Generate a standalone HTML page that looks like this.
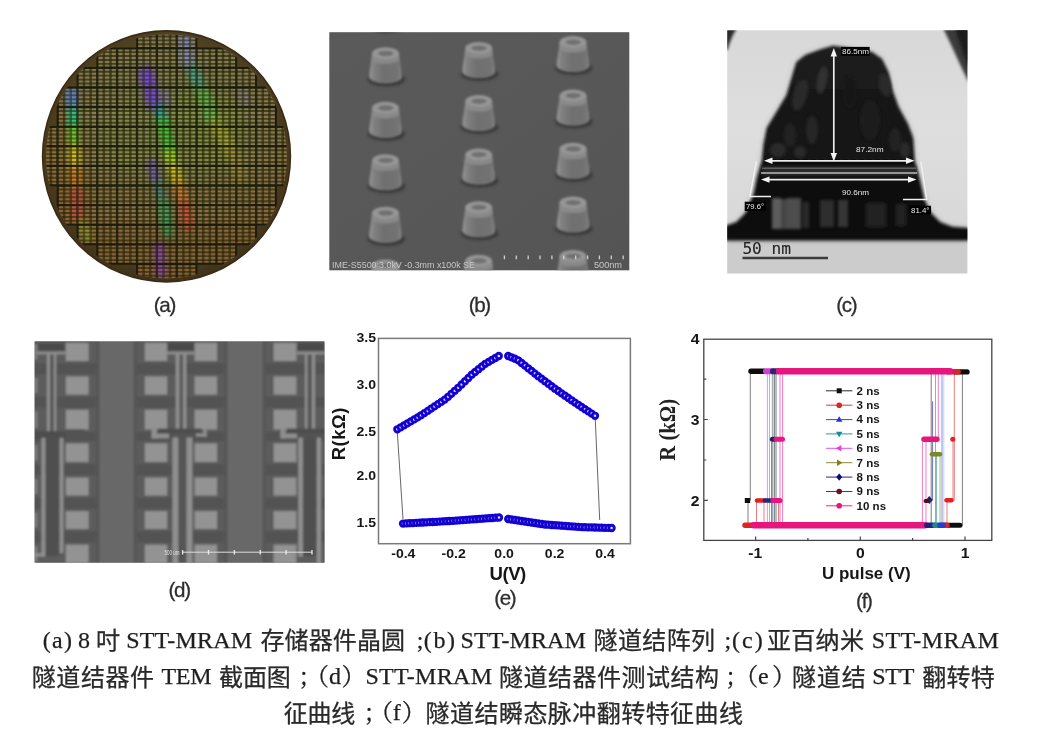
<!DOCTYPE html>
<html lang="zh"><head><meta charset="utf-8"><title>STT-MRAM figure</title>
<style>
html,body{margin:0;padding:0;background:#fff;}
body{width:1038px;height:745px;position:relative;overflow:hidden;font-family:"Liberation Sans","Noto Sans CJK SC",sans-serif;}
svg{position:absolute;left:0;top:0;}
.lab{position:absolute;font-family:"Liberation Sans",sans-serif;font-size:20.6px;letter-spacing:-1.3px;line-height:20px;height:20px;width:60px;text-align:center;color:#2e2e2e;white-space:nowrap;filter:blur(0.4px);-webkit-text-stroke:0.3px #2e2e2e;}
.cap{position:absolute;left:0;width:1038px;height:36px;margin:0;line-height:36px;font-family:"Liberation Serif","Noto Sans CJK SC",serif;font-size:24px;color:#1e1e1e;white-space:pre;filter:blur(0.4px);-webkit-text-stroke:0.25px #1e1e1e;}
.cap span{position:absolute;top:0;white-space:pre;}
.cap span.k{top:1.6px;color:#2a2a2a;}
.cap span.p{top:1px;font-family:"Liberation Serif","Noto Serif CJK SC",serif;-webkit-text-stroke:0.3px #222;}

</style></head><body>
<svg width="1038" height="745" viewBox="0 0 1038 745">
<!-- wafer -->
<g id="p_wafer">
<defs>
<clipPath id="wclip"><ellipse cx="166.5" cy="156.4" rx="123.9" ry="125.5"/></clipPath>
<clipPath id="wclip2"><ellipse cx="166.5" cy="156.4" rx="120.4" ry="122.0"/></clipPath>
<radialGradient id="wbase" cx="0.5" cy="0.45" r="0.55"><stop offset="0" stop-color="#5e5a30"/><stop offset="0.7" stop-color="#544624"/><stop offset="1" stop-color="#40321a"/></radialGradient>
<radialGradient id="wtint" cx="0.52" cy="0.42" r="0.6"><stop offset="0" stop-color="#858764"/><stop offset="0.5" stop-color="#878058"/><stop offset="1" stop-color="#886845"/></radialGradient>
<filter id="wb1" filterUnits="userSpaceOnUse" x="20" y="10" width="300" height="300"><feGaussianBlur stdDeviation="0.6"/></filter>
<filter id="wb3" filterUnits="userSpaceOnUse" x="20" y="10" width="300" height="300"><feGaussianBlur stdDeviation="3"/></filter>
<filter id="wb5" filterUnits="userSpaceOnUse" x="20" y="10" width="300" height="300"><feGaussianBlur stdDeviation="5"/></filter>
<linearGradient id="wlow" x1="0" x2="0" y1="0" y2="1"><stop offset="0" stop-color="#707060" stop-opacity="0.18"/><stop offset="0.42" stop-color="#8a5020" stop-opacity="0"/><stop offset="0.62" stop-color="#8a4c20" stop-opacity="0.26"/><stop offset="1" stop-color="#8a4418" stop-opacity="0.42"/></linearGradient>
</defs>
<g filter="url(#wb1)">
<ellipse cx="166.5" cy="156.4" rx="123.9" ry="125.5" fill="url(#wbase)" stroke="#3a2c14" stroke-width="1.6"/>
<g clip-path="url(#wclip2)">
<clipPath id="dieclip"><path d="M137.0 28.6H196.6V48.2H137.0ZM97.2 48.2H236.3V67.8H97.2ZM77.4 67.8H256.2V87.4H77.4ZM57.5 87.4H276.1V107.1H57.5ZM57.5 107.1H276.1V126.7H57.5ZM37.6 126.7H295.9V146.3H37.6ZM37.6 146.3H295.9V165.9H37.6ZM37.6 165.9H295.9V185.5H37.6ZM57.5 185.5H276.1V205.2H57.5ZM57.5 205.2H276.1V224.8H57.5ZM77.4 224.8H256.2V244.4H77.4ZM97.2 244.4H236.3V264.0H97.2ZM137.0 264.0H196.6V283.6H137.0Z"/></clipPath>
<path d="M137.0 28.6H196.6V48.2H137.0ZM97.2 48.2H236.3V67.8H97.2ZM77.4 67.8H256.2V87.4H77.4ZM57.5 87.4H276.1V107.1H57.5ZM57.5 107.1H276.1V126.7H57.5ZM37.6 126.7H295.9V146.3H37.6ZM37.6 146.3H295.9V165.9H37.6ZM37.6 165.9H295.9V185.5H37.6ZM57.5 185.5H276.1V205.2H57.5ZM57.5 205.2H276.1V224.8H57.5ZM77.4 224.8H256.2V244.4H77.4ZM97.2 244.4H236.3V264.0H97.2ZM137.0 264.0H196.6V283.6H137.0Z" fill="url(#wtint)"/>
<g clip-path="url(#dieclip)">
<ellipse cx="62" cy="170" rx="26" ry="75" fill="#a06028" opacity="0.28" filter="url(#wb5)"/>
<rect x="30" y="20" width="280" height="280" fill="url(#wlow)"/>
<ellipse cx="205" cy="120" rx="32" ry="42" fill="#8ea040" opacity="0.35" transform="rotate(-25 205 120)" filter="url(#wb5)"/>
<ellipse cx="175" cy="135" rx="70" ry="50" fill="#7c9040" opacity="0.35" filter="url(#wb5)"/>
<polyline points="71.5,92.0 72.0,104.0" fill="none" stroke="#5a86e0" stroke-width="10.0" stroke-opacity="1.00" stroke-linecap="round" filter="url(#wb3)"/>
<polyline points="72.5,110.0 73.0,124.0" fill="none" stroke="#20d090" stroke-width="9.0" stroke-opacity="0.95" stroke-linecap="round" filter="url(#wb3)"/>
<polyline points="73.5,129.0 74.0,143.0" fill="none" stroke="#70d830" stroke-width="9.0" stroke-opacity="0.95" stroke-linecap="round" filter="url(#wb3)"/>
<polyline points="74.5,149.0 75.0,165.0" fill="none" stroke="#e0d020" stroke-width="9.0" stroke-opacity="0.95" stroke-linecap="round" filter="url(#wb3)"/>
<polyline points="75.5,171.0 76.0,186.0" fill="none" stroke="#e08028" stroke-width="9.0" stroke-opacity="0.90" stroke-linecap="round" filter="url(#wb3)"/>
<polyline points="76.5,192.0 77.5,216.0" fill="none" stroke="#d84848" stroke-width="9.0" stroke-opacity="0.85" stroke-linecap="round" filter="url(#wb3)"/>
<polyline points="82.5,224.0 87.5,238.0" fill="none" stroke="#98a838" stroke-width="9.0" stroke-opacity="0.70" stroke-linecap="round" filter="url(#wb3)"/>
<polyline points="146.0,73.0 154.0,103.0" fill="none" stroke="#7848e0" stroke-width="14.0" stroke-opacity="0.95" stroke-linecap="round" filter="url(#wb3)"/>
<polyline points="164.0,92.0 168.0,102.0" fill="none" stroke="#9080d0" stroke-width="10.0" stroke-opacity="0.50" stroke-linecap="round" filter="url(#wb3)"/>
<polyline points="242.0,92.0 246.0,102.0" fill="none" stroke="#9088c8" stroke-width="10.0" stroke-opacity="0.35" stroke-linecap="round" filter="url(#wb3)"/>
<polyline points="159.0,108.0 162.0,118.0" fill="none" stroke="#20a8b0" stroke-width="9.0" stroke-opacity="0.90" stroke-linecap="round" filter="url(#wb3)"/>
<polyline points="163.0,122.0 169.0,150.0" fill="none" stroke="#38d038" stroke-width="10.0" stroke-opacity="0.95" stroke-linecap="round" filter="url(#wb3)"/>
<polyline points="170.0,153.0 172.0,164.0" fill="none" stroke="#a0d828" stroke-width="10.0" stroke-opacity="0.95" stroke-linecap="round" filter="url(#wb3)"/>
<polyline points="174.0,168.0 178.0,182.0" fill="none" stroke="#e0c828" stroke-width="10.0" stroke-opacity="0.90" stroke-linecap="round" filter="url(#wb3)"/>
<polyline points="179.0,186.0 183.0,200.0" fill="none" stroke="#e08030" stroke-width="9.0" stroke-opacity="0.90" stroke-linecap="round" filter="url(#wb3)"/>
<polyline points="184.0,204.0 188.0,226.0" fill="none" stroke="#e04838" stroke-width="9.0" stroke-opacity="0.90" stroke-linecap="round" filter="url(#wb3)"/>
<polyline points="152.0,164.0 155.0,178.0" fill="none" stroke="#7058d0" stroke-width="9.0" stroke-opacity="0.80" stroke-linecap="round" filter="url(#wb3)"/>
<polyline points="158.0,184.0 161.0,196.0" fill="none" stroke="#3890a0" stroke-width="8.0" stroke-opacity="0.70" stroke-linecap="round" filter="url(#wb3)"/>
<polyline points="163.0,203.0 168.0,232.0" fill="none" stroke="#30a868" stroke-width="10.0" stroke-opacity="0.80" stroke-linecap="round" filter="url(#wb3)"/>
<polyline points="159.0,246.0 161.0,274.0" fill="none" stroke="#9040c8" stroke-width="8.0" stroke-opacity="0.90" stroke-linecap="round" filter="url(#wb3)"/>
<polyline points="185.0,36.0 188.0,62.0" fill="none" stroke="#8890d8" stroke-width="12.0" stroke-opacity="0.70" stroke-linecap="round" filter="url(#wb3)"/>
<polyline points="193.0,70.0 199.0,86.0" fill="none" stroke="#40b0a0" stroke-width="11.0" stroke-opacity="0.75" stroke-linecap="round" filter="url(#wb3)"/>
<polyline points="203.0,92.0 211.0,118.0" fill="none" stroke="#58c050" stroke-width="13.0" stroke-opacity="0.75" stroke-linecap="round" filter="url(#wb3)"/>
<polyline points="216.0,124.0 228.0,146.0" fill="none" stroke="#b0b030" stroke-width="13.0" stroke-opacity="0.65" stroke-linecap="round" filter="url(#wb3)"/>
<polyline points="232.0,152.0 240.0,176.0" fill="none" stroke="#b09838" stroke-width="12.0" stroke-opacity="0.45" stroke-linecap="round" filter="url(#wb3)"/>
<polyline points="258.0,226.0 258.0,236.0" fill="none" stroke="#e04820" stroke-width="4.0" stroke-opacity="0.90" stroke-linecap="round" filter="url(#wb1)"/>
<polyline points="237.0,244.0 237.5,252.0" fill="none" stroke="#e04820" stroke-width="4.0" stroke-opacity="0.90" stroke-linecap="round" filter="url(#wb1)"/>
<polyline points="243.0,250.0 247.0,250.0" fill="none" stroke="#c09850" stroke-width="5.0" stroke-opacity="0.80" stroke-linecap="round" filter="url(#wb1)"/>
<path d="M44.25 28V286M50.88 28V286M64.12 28V286M70.75 28V286M83.99 28V286M90.62 28V286M103.86 28V286M110.49 28V286M123.73 28V286M130.36 28V286M143.60 28V286M150.23 28V286M163.47 28V286M170.10 28V286M183.34 28V286M189.97 28V286M203.21 28V286M209.84 28V286M223.08 28V286M229.71 28V286M242.95 28V286M249.58 28V286M262.82 28V286M269.45 28V286M282.69 28V286M289.32 28V286M302.56 28V286M309.19 28V286" stroke="#2a2a0a" stroke-width="2.5" stroke-opacity="0.68" fill="none"/>
<path d="M36 32.50H298M36 36.43H298M36 40.35H298M36 44.28H298M36 52.12H298M36 56.05H298M36 59.97H298M36 63.90H298M36 71.74H298M36 75.67H298M36 79.59H298M36 83.52H298M36 91.36H298M36 95.29H298M36 99.21H298M36 103.14H298M36 110.98H298M36 114.91H298M36 118.83H298M36 122.76H298M36 130.60H298M36 134.53H298M36 138.45H298M36 142.38H298M36 150.22H298M36 154.15H298M36 158.07H298M36 162.00H298M36 169.84H298M36 173.77H298M36 177.69H298M36 181.62H298M36 189.46H298M36 193.39H298M36 197.31H298M36 201.24H298M36 209.08H298M36 213.01H298M36 216.93H298M36 220.86H298M36 228.70H298M36 232.63H298M36 236.55H298M36 240.48H298M36 248.32H298M36 252.25H298M36 256.17H298M36 260.10H298M36 267.94H298M36 271.87H298M36 275.79H298M36 279.72H298M36 287.56H298M36 291.49H298M36 295.41H298M36 299.34H298" stroke="#2a2a0a" stroke-width="1.9" stroke-opacity="0.7" fill="none"/>
</g>
<g clip-path="url(#dieclip)"><path d="M37.63 28V286M57.50 28V286M77.37 28V286M97.24 28V286M117.11 28V286M136.98 28V286M156.85 28V286M176.72 28V286M196.59 28V286M216.46 28V286M236.33 28V286M256.20 28V286M276.07 28V286M295.94 28V286M315.81 28V286M36 28.58H298M36 48.20H298M36 67.82H298M36 87.44H298M36 107.06H298M36 126.68H298M36 146.30H298M36 165.92H298M36 185.54H298M36 205.16H298M36 224.78H298M36 244.40H298M36 264.02H298M36 283.64H298M36 303.26H298" stroke="#1e200a" stroke-width="2.4" stroke-opacity="0.93" fill="none"/></g>
<g clip-path="url(#dieclip)" opacity="0.24"><polyline points="71.5,92.0 72.0,104.0" fill="none" stroke="#5a86e0" stroke-width="10.0" stroke-opacity="1.00" stroke-linecap="round" filter="url(#wb3)"/>
<polyline points="72.5,110.0 73.0,124.0" fill="none" stroke="#20d090" stroke-width="9.0" stroke-opacity="0.95" stroke-linecap="round" filter="url(#wb3)"/>
<polyline points="73.5,129.0 74.0,143.0" fill="none" stroke="#70d830" stroke-width="9.0" stroke-opacity="0.95" stroke-linecap="round" filter="url(#wb3)"/>
<polyline points="74.5,149.0 75.0,165.0" fill="none" stroke="#e0d020" stroke-width="9.0" stroke-opacity="0.95" stroke-linecap="round" filter="url(#wb3)"/>
<polyline points="75.5,171.0 76.0,186.0" fill="none" stroke="#e08028" stroke-width="9.0" stroke-opacity="0.90" stroke-linecap="round" filter="url(#wb3)"/>
<polyline points="76.5,192.0 77.5,216.0" fill="none" stroke="#d84848" stroke-width="9.0" stroke-opacity="0.85" stroke-linecap="round" filter="url(#wb3)"/>
<polyline points="82.5,224.0 87.5,238.0" fill="none" stroke="#98a838" stroke-width="9.0" stroke-opacity="0.70" stroke-linecap="round" filter="url(#wb3)"/>
<polyline points="146.0,73.0 154.0,103.0" fill="none" stroke="#7848e0" stroke-width="14.0" stroke-opacity="0.95" stroke-linecap="round" filter="url(#wb3)"/>
<polyline points="164.0,92.0 168.0,102.0" fill="none" stroke="#9080d0" stroke-width="10.0" stroke-opacity="0.50" stroke-linecap="round" filter="url(#wb3)"/>
<polyline points="242.0,92.0 246.0,102.0" fill="none" stroke="#9088c8" stroke-width="10.0" stroke-opacity="0.35" stroke-linecap="round" filter="url(#wb3)"/>
<polyline points="159.0,108.0 162.0,118.0" fill="none" stroke="#20a8b0" stroke-width="9.0" stroke-opacity="0.90" stroke-linecap="round" filter="url(#wb3)"/>
<polyline points="163.0,122.0 169.0,150.0" fill="none" stroke="#38d038" stroke-width="10.0" stroke-opacity="0.95" stroke-linecap="round" filter="url(#wb3)"/>
<polyline points="170.0,153.0 172.0,164.0" fill="none" stroke="#a0d828" stroke-width="10.0" stroke-opacity="0.95" stroke-linecap="round" filter="url(#wb3)"/>
<polyline points="174.0,168.0 178.0,182.0" fill="none" stroke="#e0c828" stroke-width="10.0" stroke-opacity="0.90" stroke-linecap="round" filter="url(#wb3)"/>
<polyline points="179.0,186.0 183.0,200.0" fill="none" stroke="#e08030" stroke-width="9.0" stroke-opacity="0.90" stroke-linecap="round" filter="url(#wb3)"/>
<polyline points="184.0,204.0 188.0,226.0" fill="none" stroke="#e04838" stroke-width="9.0" stroke-opacity="0.90" stroke-linecap="round" filter="url(#wb3)"/>
<polyline points="152.0,164.0 155.0,178.0" fill="none" stroke="#7058d0" stroke-width="9.0" stroke-opacity="0.80" stroke-linecap="round" filter="url(#wb3)"/>
<polyline points="158.0,184.0 161.0,196.0" fill="none" stroke="#3890a0" stroke-width="8.0" stroke-opacity="0.70" stroke-linecap="round" filter="url(#wb3)"/>
<polyline points="163.0,203.0 168.0,232.0" fill="none" stroke="#30a868" stroke-width="10.0" stroke-opacity="0.80" stroke-linecap="round" filter="url(#wb3)"/>
<polyline points="159.0,246.0 161.0,274.0" fill="none" stroke="#9040c8" stroke-width="8.0" stroke-opacity="0.90" stroke-linecap="round" filter="url(#wb3)"/>
<polyline points="185.0,36.0 188.0,62.0" fill="none" stroke="#8890d8" stroke-width="12.0" stroke-opacity="0.70" stroke-linecap="round" filter="url(#wb3)"/>
<polyline points="193.0,70.0 199.0,86.0" fill="none" stroke="#40b0a0" stroke-width="11.0" stroke-opacity="0.75" stroke-linecap="round" filter="url(#wb3)"/>
<polyline points="203.0,92.0 211.0,118.0" fill="none" stroke="#58c050" stroke-width="13.0" stroke-opacity="0.75" stroke-linecap="round" filter="url(#wb3)"/>
<polyline points="216.0,124.0 228.0,146.0" fill="none" stroke="#b0b030" stroke-width="13.0" stroke-opacity="0.65" stroke-linecap="round" filter="url(#wb3)"/>
<polyline points="232.0,152.0 240.0,176.0" fill="none" stroke="#b09838" stroke-width="12.0" stroke-opacity="0.45" stroke-linecap="round" filter="url(#wb3)"/>
<polyline points="258.0,226.0 258.0,236.0" fill="none" stroke="#e04820" stroke-width="4.0" stroke-opacity="0.90" stroke-linecap="round" filter="url(#wb1)"/>
<polyline points="237.0,244.0 237.5,252.0" fill="none" stroke="#e04820" stroke-width="4.0" stroke-opacity="0.90" stroke-linecap="round" filter="url(#wb1)"/>
<polyline points="243.0,250.0 247.0,250.0" fill="none" stroke="#c09850" stroke-width="5.0" stroke-opacity="0.80" stroke-linecap="round" filter="url(#wb1)"/></g>
<path d="M137.0 28.6H196.6V48.2H137.0ZM97.2 48.2H236.3V67.8H97.2ZM77.4 67.8H256.2V87.4H77.4ZM57.5 87.4H276.1V107.1H57.5ZM57.5 107.1H276.1V126.7H57.5ZM37.6 126.7H295.9V146.3H37.6ZM37.6 146.3H295.9V165.9H37.6ZM37.6 165.9H295.9V185.5H37.6ZM57.5 185.5H276.1V205.2H57.5ZM57.5 205.2H276.1V224.8H57.5ZM77.4 224.8H256.2V244.4H77.4ZM97.2 244.4H236.3V264.0H97.2ZM137.0 264.0H196.6V283.6H137.0Z" fill="none" stroke="#1c1a08" stroke-width="1.6"/>
</g>
</g>
</g>
<!-- sem -->
<g id="p_sem">
<defs>
<clipPath id="sclip"><rect x="329.3" y="32.2" width="300.0" height="238.1"/></clipPath>
<filter id="sb" x="-30%" y="-30%" width="160%" height="160%"><feGaussianBlur stdDeviation="0.9"/></filter>
<filter id="sb2" x="-50%" y="-80%" width="200%" height="260%"><feGaussianBlur stdDeviation="1.6"/></filter>
<filter id="sb05" filterUnits="userSpaceOnUse" x="320" y="20" width="320" height="260"><feGaussianBlur stdDeviation="0.45"/></filter>
<linearGradient id="sbody" x1="0" x2="1" y1="0" y2="0"><stop offset="0" stop-color="#989898"/><stop offset="0.16" stop-color="#808080"/><stop offset="0.45" stop-color="#707070"/><stop offset="0.85" stop-color="#727272"/><stop offset="1" stop-color="#848484"/></linearGradient>
<linearGradient id="sbg" x1="0" x2="1" y1="0" y2="1"><stop offset="0" stop-color="#5a5a5a"/><stop offset="0.5" stop-color="#585858"/><stop offset="1" stop-color="#545454"/></linearGradient>
<g id="pil">
<ellipse cx="0.8" cy="32.3" rx="18.8" ry="6.8" fill="#343434" opacity="0.85" filter="url(#sb2)"/>
<g filter="url(#sb)">
<path d="M-13.4 6 C-14 14 -15.8 22 -16.6 30 C-14 38 14 38 16.6 30 C15.8 22 14 14 13.4 6 Z" fill="url(#sbody)"/>
<path d="M-13.4 6 L-14 13 C-9 17.8 9 17.8 14 13 L13.4 6Z" fill="#8c8c8c" opacity="0.9"/>
<ellipse cx="0" cy="6" rx="13.4" ry="6" fill="#969696"/>
<ellipse cx="0.3" cy="6.2" rx="7.6" ry="2.7" fill="#707070"/>
<path d="M-16 29.5 C-13 37.2 13 37.2 16 29.5" fill="none" stroke="#7c7c7c" stroke-width="1.1" opacity="0.6"/>
</g></g>
</defs>
<rect x="329.3" y="32.2" width="300.0" height="238.1" fill="url(#sbg)"/>
<g clip-path="url(#sclip)">
<use href="#pil" x="385.5" y="-6.0"/>
<use href="#pil" x="385.5" y="47.3"/>
<use href="#pil" x="385.5" y="101.8"/>
<use href="#pil" x="385.5" y="154.2"/>
<use href="#pil" x="385.5" y="206.8"/>
<use href="#pil" x="385.5" y="259.5"/>
<use href="#pil" x="478.7" y="-11.0"/>
<use href="#pil" x="478.7" y="42.0"/>
<use href="#pil" x="478.7" y="95.0"/>
<use href="#pil" x="478.7" y="148.5"/>
<use href="#pil" x="478.7" y="201.2"/>
<use href="#pil" x="478.7" y="254.7"/>
<use href="#pil" x="573.0" y="-17.0"/>
<use href="#pil" x="573.0" y="36.0"/>
<use href="#pil" x="573.0" y="89.5"/>
<use href="#pil" x="573.0" y="142.8"/>
<use href="#pil" x="573.0" y="196.4"/>
<use href="#pil" x="573.0" y="250.0"/>
<g filter="url(#sb05)">
<text x="332" y="268.3" font-family="'Liberation Sans',sans-serif" font-size="8.3" fill="#c6c6c6" textLength="143" lengthAdjust="spacingAndGlyphs">IME-S5500 3.0kV -0.3mm x100k SE</text>
<text x="594" y="268.3" font-family="'Liberation Sans',sans-serif" font-size="8.3" fill="#c6c6c6" textLength="28" lengthAdjust="spacingAndGlyphs">500nm</text>
<path d="M504.4 255.4V259.2M516.3 255.4V259.2M528.2 255.4V259.2M540.0 255.4V259.2M551.9 255.4V259.2M563.8 255.4V259.2M575.7 255.4V259.2M587.6 255.4V259.2M599.4 255.4V259.2M611.3 255.4V259.2M623.2 255.4V259.2" stroke="#cfcfcf" stroke-width="1.3" fill="none"/>
</g>
</g>
</g>
<!-- tem -->
<g id="p_tem">
<defs>
<clipPath id="tclip"><rect x="727.2" y="30.3" width="240.2" height="243.2"/></clipPath>
<filter id="tb" filterUnits="userSpaceOnUse" x="700" y="10" width="300" height="290"><feGaussianBlur stdDeviation="1.5"/></filter>
<filter id="tb3" filterUnits="userSpaceOnUse" x="700" y="10" width="300" height="290"><feGaussianBlur stdDeviation="3"/></filter>
<filter id="tb05" filterUnits="userSpaceOnUse" x="700" y="10" width="300" height="290"><feGaussianBlur stdDeviation="0.5"/></filter>
<linearGradient id="tbg" x1="0" x2="0" y1="0" y2="1"><stop offset="0" stop-color="#d8d8d8"/><stop offset="0.4" stop-color="#dedede"/><stop offset="0.84" stop-color="#d8d8d8"/><stop offset="0.88" stop-color="#cdcdcd"/><stop offset="1" stop-color="#cbcbcb"/></linearGradient>
<linearGradient id="tblob" x1="0" x2="0" y1="0" y2="1"><stop offset="0" stop-color="#1e1e1e"/><stop offset="0.6" stop-color="#111111"/><stop offset="1" stop-color="#0a0a0a"/></linearGradient>
</defs>
<rect x="727.2" y="30.3" width="240.2" height="243.2" fill="url(#tbg)"/>
<g clip-path="url(#tclip)">
<path d="M727.0 226.5 L736.8 223.2 L746.6 213.4 L754.8 193.7 L758.1 177.3 L763.0 161.0 L764.7 144.6 L767.9 128.2 L777.8 111.9 L787.6 95.5 L792.5 79.1 L797.4 62.7 L805.6 56.2 L822.0 50.3 L833.4 47.0 L871.1 52.9 L880.9 59.5 L887.4 72.6 L890.7 88.9 L897.3 106.9 L907.1 125.0 L912.0 138.1 L913.6 161.0 L918.6 179.0 L923.5 200.3 L930.0 213.4 L939.8 223.2 L952.9 228.1 L967.0 229.1 L969.3 229.1 L969.3 239.6 L725.4 239.6 L725.4 226.5Z" fill="#555" opacity="0.55" filter="url(#tb3)"/>
<path d="M727.0 226.5 L736.8 223.2 L746.6 213.4 L754.8 193.7 L758.1 177.3 L763.0 161.0 L764.7 144.6 L767.9 128.2 L777.8 111.9 L787.6 95.5 L792.5 79.1 L797.4 62.7 L805.6 56.2 L822.0 50.3 L833.4 47.0 L871.1 52.9 L880.9 59.5 L887.4 72.6 L890.7 88.9 L897.3 106.9 L907.1 125.0 L912.0 138.1 L913.6 161.0 L918.6 179.0 L923.5 200.3 L930.0 213.4 L939.8 223.2 L952.9 228.1 L967.0 229.1 L969.3 229.1 L969.3 239.6 L725.4 239.6 L725.4 226.5Z" fill="url(#tblob)" stroke="#101010" stroke-width="2" stroke-linejoin="round" filter="url(#tb)"/>
<path d="M943 28 L970 28 L970 84 C962 70 954 50 943 28Z" fill="#3a3a3a" filter="url(#tb)"/>
<path d="M955 28 L970 28 L970 70 C964 56 960 44 955 28Z" fill="#1a1a1a" filter="url(#tb)"/>
<path d="M725 28 L737 28 C733 34 730 41 727.5 50 L725 50Z" fill="#2c2c2c" filter="url(#tb)"/>
<g filter="url(#tb)">
<rect x="772" y="198" width="9" height="31" fill="#5c5c5c"/><rect x="781" y="199" width="6" height="30" fill="#444"/><rect x="787" y="198" width="14" height="31" fill="#4e4e4e"/>
<rect x="803" y="202" width="6" height="26" fill="#2a2a2a"/>
<rect x="820" y="200" width="14" height="27" fill="#2d2d2d"/>
<rect x="838" y="200" width="10" height="27" fill="#353535"/>
<rect x="866" y="203" width="20" height="24" fill="#222"/>
<rect x="896" y="204" width="10" height="22" fill="#242424"/>
<ellipse cx="800" cy="95" rx="7" ry="16" fill="#2a2a2a" transform="rotate(15 800 95)"/>
<ellipse cx="812" cy="130" rx="6" ry="14" fill="#262626"/>
<ellipse cx="790" cy="135" rx="6" ry="12" fill="#242424"/>
<ellipse cx="870" cy="120" rx="10" ry="20" fill="#1c1c1c"/>
<ellipse cx="895" cy="140" rx="6" ry="12" fill="#242424"/>
<ellipse cx="822" cy="80" rx="5" ry="14" fill="#303030" transform="rotate(10 822 80)"/>
<ellipse cx="850" cy="92" rx="7" ry="16" fill="#161616"/>
<ellipse cx="778" cy="150" rx="8" ry="7" fill="#2c2c2c"/>
<ellipse cx="800" cy="152" rx="6" ry="6" fill="#2a2a2a"/>
<ellipse cx="905" cy="150" rx="5" ry="8" fill="#2a2a2a"/>
<ellipse cx="885" cy="85" rx="6" ry="12" fill="#2a2a2a" transform="rotate(-12 885 85)"/>
<rect x="762" y="166" width="154" height="10" fill="#2c2c2c"/>
</g>
<g filter="url(#tb05)">
<path d="M762 168.2H916" stroke="#5e5e5e" stroke-width="1.5"/>
<path d="M761 172.9H917" stroke="#969696" stroke-width="2"/>
<path d="M769.0 160.8H909.5" stroke="#ececec" stroke-width="1.7"/><path d="M764.0 160.8 l8.5 -3.2 v6.4Z M914.5 160.8 l-8.5 -3.2 v6.4Z" fill="#f4f4f4"/>
<path d="M766.0 179.6H911.5" stroke="#ececec" stroke-width="1.7"/><path d="M761.0 179.6 l8.5 -3.2 v6.4Z M916.5 179.6 l-8.5 -3.2 v6.4Z" fill="#f4f4f4"/>
<path d="M833.8 55V154" stroke="#ececec" stroke-width="1.7"/>
<path d="M833.8 48 l-3.2 8.5 h6.4Z M833.8 161.5 l-3.2 -8.5 h6.4Z" fill="#f4f4f4"/>
<path d="M756.4 161.6 L749.8 196.4 H771" fill="none" stroke="#f0f0f0" stroke-width="1.5"/>
<path d="M920.8 161.6 L926.8 199.4 H903" fill="none" stroke="#f0f0f0" stroke-width="1.5"/>
<rect x="841" y="46.9" width="28.7" height="8.8" fill="#050505"/>
<text x="842" y="54.2" font-family="'Liberation Sans',sans-serif" font-size="7.6" fill="#e8e8e8" textLength="27" lengthAdjust="spacingAndGlyphs">86.5nm</text>
<text x="856" y="152.2" font-family="'Liberation Sans',sans-serif" font-size="7.6" fill="#e8e8e8" textLength="27.6" lengthAdjust="spacingAndGlyphs">87.2nm</text>
<text x="842" y="194.6" font-family="'Liberation Sans',sans-serif" font-size="7.6" fill="#e8e8e8" textLength="27" lengthAdjust="spacingAndGlyphs">90.6nm</text>
<rect x="744.7" y="201.7" width="21" height="9.3" fill="#050505"/>
<text x="746" y="209.3" font-family="'Liberation Sans',sans-serif" font-size="7.6" fill="#e8e8e8" textLength="18" lengthAdjust="spacingAndGlyphs">79.6°</text>
<rect x="909.5" y="205.8" width="21.5" height="8.6" fill="#050505"/>
<text x="911" y="213" font-family="'Liberation Sans',sans-serif" font-size="7.6" fill="#e8e8e8" textLength="18.5" lengthAdjust="spacingAndGlyphs">81.4°</text>
<text x="742.4" y="253.7" font-family="'DejaVu Sans Mono','Liberation Mono',monospace" font-size="16.2" fill="#242424" stroke="#242424" stroke-width="0.12" textLength="48.6" lengthAdjust="spacing" xml:space="preserve">50 nm</text>
<path d="M742.5 258H828" stroke="#3a3a3a" stroke-width="2.4"/>
</g>
</g>
</g>
<!-- opt -->
<g id="p_opt">
<defs>
<clipPath id="oclip"><rect x="34.7" y="341.5" width="289.7" height="221.1"/></clipPath>
<filter id="ob" filterUnits="userSpaceOnUse" x="20" y="330" width="320" height="245"><feGaussianBlur stdDeviation="0.85"/></filter>
<filter id="ob05" filterUnits="userSpaceOnUse" x="20" y="330" width="320" height="245"><feGaussianBlur stdDeviation="0.5"/></filter>
</defs>
<rect x="34.7" y="341.5" width="289.7" height="221.1" fill="#5c5c5c"/>
<g clip-path="url(#oclip)"><g filter="url(#ob)">
<rect x="20.0" y="330.0" width="320.0" height="245.0" fill="#5c5c5c"/>
<rect x="20.0" y="363.6" width="320.0" height="10.3" fill="#525252"/>
<rect x="20.0" y="397.2" width="320.0" height="10.0" fill="#525252"/>
<rect x="20.0" y="432.1" width="320.0" height="8.7" fill="#525252"/>
<rect x="20.0" y="464.6" width="320.0" height="10.4" fill="#525252"/>
<rect x="20.0" y="498.1" width="320.0" height="10.5" fill="#525252"/>
<rect x="20.0" y="531.6" width="320.0" height="10.5" fill="#525252"/>
<rect x="20.0" y="338.0" width="320.0" height="3.5" fill="#505050"/>
<rect x="96.1" y="330.0" width="41.0" height="245.0" fill="#575757"/>
<rect x="99.6" y="330.0" width="34.0" height="245.0" fill="#686868"/>
<rect x="100.8" y="330.0" width="1.0" height="245.0" fill="#6e6e6e"/>
<rect x="131.4" y="330.0" width="1.0" height="245.0" fill="#6e6e6e"/>
<rect x="224.1" y="330.0" width="41.8" height="245.0" fill="#575757"/>
<rect x="227.6" y="330.0" width="34.8" height="245.0" fill="#686868"/>
<rect x="228.8" y="330.0" width="1.0" height="245.0" fill="#6e6e6e"/>
<rect x="260.2" y="330.0" width="1.0" height="245.0" fill="#6e6e6e"/>
<rect x="65.8" y="342.8" width="22.8" height="18.2" fill="#939393"/>
<rect x="65.8" y="376.5" width="22.8" height="18.1" fill="#939393"/>
<rect x="65.8" y="409.8" width="22.8" height="19.7" fill="#939393"/>
<rect x="65.8" y="443.4" width="22.8" height="18.6" fill="#939393"/>
<rect x="65.8" y="477.6" width="22.8" height="17.9" fill="#939393"/>
<rect x="65.8" y="511.2" width="22.8" height="17.8" fill="#939393"/>
<rect x="65.8" y="544.7" width="22.8" height="18.8" fill="#939393"/>
<rect x="144.8" y="342.8" width="22.4" height="18.2" fill="#939393"/>
<rect x="144.8" y="376.5" width="22.4" height="18.1" fill="#939393"/>
<rect x="144.8" y="409.8" width="22.4" height="19.7" fill="#939393"/>
<rect x="144.8" y="443.4" width="22.4" height="18.6" fill="#939393"/>
<rect x="144.8" y="477.6" width="22.4" height="17.9" fill="#939393"/>
<rect x="144.8" y="511.2" width="22.4" height="17.8" fill="#939393"/>
<rect x="144.8" y="544.7" width="22.4" height="18.8" fill="#939393"/>
<rect x="194.6" y="342.8" width="22.4" height="18.2" fill="#939393"/>
<rect x="194.6" y="376.5" width="22.4" height="18.1" fill="#939393"/>
<rect x="194.6" y="409.8" width="22.4" height="19.7" fill="#939393"/>
<rect x="194.6" y="443.4" width="22.4" height="18.6" fill="#939393"/>
<rect x="194.6" y="477.6" width="22.4" height="17.9" fill="#939393"/>
<rect x="194.6" y="511.2" width="22.4" height="17.8" fill="#939393"/>
<rect x="194.6" y="544.7" width="22.4" height="18.8" fill="#939393"/>
<rect x="273.6" y="342.8" width="22.8" height="18.2" fill="#939393"/>
<rect x="273.6" y="376.5" width="22.8" height="18.1" fill="#939393"/>
<rect x="273.6" y="409.8" width="22.8" height="19.7" fill="#939393"/>
<rect x="273.6" y="443.4" width="22.8" height="18.6" fill="#939393"/>
<rect x="273.6" y="477.6" width="22.8" height="17.9" fill="#939393"/>
<rect x="273.6" y="511.2" width="22.8" height="17.8" fill="#939393"/>
<rect x="273.6" y="544.7" width="22.8" height="18.8" fill="#939393"/>
<rect x="33.0" y="344.3" width="4.6" height="15.2" fill="#7a7a7a"/>
<rect x="33.0" y="378.0" width="4.6" height="15.1" fill="#7a7a7a"/>
<rect x="33.0" y="411.3" width="4.6" height="16.7" fill="#7a7a7a"/>
<rect x="33.0" y="444.9" width="4.6" height="15.6" fill="#7a7a7a"/>
<rect x="33.0" y="479.1" width="4.6" height="14.9" fill="#7a7a7a"/>
<rect x="33.0" y="512.7" width="4.6" height="14.8" fill="#7a7a7a"/>
<rect x="33.0" y="546.2" width="4.6" height="15.8" fill="#7a7a7a"/>
<rect x="38.0" y="343.6" width="26.5" height="6.8" fill="#4a4a4a"/>
<rect x="36.5" y="351.8" width="29.3" height="2.5" fill="#8f8f8f"/>
<rect x="46.9" y="353.0" width="3.0" height="78.0" fill="#8f8f8f"/>
<rect x="53.6" y="353.0" width="2.6" height="78.0" fill="#8f8f8f"/>
<rect x="50.0" y="355.0" width="3.5" height="76.0" fill="#585858"/>
<rect x="35.0" y="431.0" width="31.0" height="7.4" fill="#4d4d4d"/>
<rect x="46.0" y="439.5" width="12.9" height="116.5" fill="#4f4f4f"/>
<rect x="41.5" y="437.8" width="3.8" height="118.7" fill="#8f8f8f"/>
<rect x="59.6" y="437.8" width="3.8" height="115.2" fill="#8f8f8f"/>
<rect x="34.0" y="553.2" width="11.0" height="3.3" fill="#8f8f8f"/>
<rect x="66.5" y="429.4" width="17.5" height="2.2" fill="#4d4d4d"/>
<rect x="167.5" y="343.2" width="26.5" height="7.2" fill="#4a4a4a"/>
<rect x="167.0" y="351.8" width="27.6" height="2.5" fill="#8f8f8f"/>
<rect x="175.7" y="353.0" width="3.9" height="78.0" fill="#8f8f8f"/>
<rect x="183.1" y="353.0" width="3.3" height="78.0" fill="#8f8f8f"/>
<rect x="179.7" y="355.0" width="3.3" height="76.0" fill="#585858"/>
<rect x="158.0" y="428.6" width="43.5" height="4.4" fill="#4d4d4d"/>
<rect x="169.0" y="433.0" width="24.0" height="5.0" fill="#525252"/>
<rect x="151.6" y="427.5" width="5.2" height="10.9" fill="#8f8f8f"/>
<rect x="151.6" y="433.6" width="17.4" height="4.8" fill="#8f8f8f"/>
<rect x="196.0" y="433.4" width="10.5" height="3.2" fill="#8f8f8f"/>
<rect x="203.4" y="428.0" width="3.1" height="8.6" fill="#8f8f8f"/>
<rect x="178.4" y="439.0" width="8.0" height="126.0" fill="#545454"/>
<rect x="172.4" y="437.4" width="5.9" height="127.6" fill="#8f8f8f"/>
<rect x="186.5" y="437.4" width="5.9" height="127.6" fill="#8f8f8f"/>
<rect x="297.5" y="343.2" width="26.5" height="7.2" fill="#4a4a4a"/>
<rect x="296.4" y="351.8" width="29.6" height="2.5" fill="#8f8f8f"/>
<rect x="304.9" y="353.0" width="2.7" height="78.0" fill="#8f8f8f"/>
<rect x="312.0" y="353.0" width="3.0" height="78.0" fill="#8f8f8f"/>
<rect x="307.7" y="355.0" width="4.2" height="76.0" fill="#585858"/>
<rect x="287.0" y="428.6" width="39.0" height="4.4" fill="#4d4d4d"/>
<rect x="297.0" y="433.0" width="29.0" height="5.0" fill="#525252"/>
<rect x="280.5" y="427.5" width="5.0" height="10.9" fill="#8f8f8f"/>
<rect x="280.5" y="433.6" width="16.5" height="4.8" fill="#8f8f8f"/>
<rect x="303.6" y="439.5" width="12.6" height="116.5" fill="#4f4f4f"/>
<rect x="298.3" y="437.6" width="4.5" height="118.9" fill="#8f8f8f"/>
<rect x="316.8" y="437.6" width="4.2" height="127.4" fill="#8f8f8f"/>
</g>
<g filter="url(#ob05)">
<text x="164.4" y="555.4" font-family="'Liberation Sans',sans-serif" font-size="7" fill="#e2e2e2" textLength="15" lengthAdjust="spacingAndGlyphs">500 um</text>
<path d="M182.6 552.2H312" stroke="#dcdcdc" stroke-width="1"/>
<path d="M182.6 550V554.4M208.5 550V554.4M234.4 550V554.4M260.2 550V554.4M286.1 550V554.4M312.0 550V554.4" stroke="#ececec" stroke-width="1.3"/>
</g></g>
</g>
<!-- chart_e -->
<g id="p_chart_e">
<defs><filter id="eb" filterUnits="userSpaceOnUse" x="330" y="320" width="320" height="300"><feGaussianBlur stdDeviation="0.45"/></filter></defs>
<g filter="url(#eb)">
<rect x="378.5" y="338.4" width="251.9" height="205.3" fill="#fff" stroke="#7a7a7a" stroke-width="1.5"/>
<path d="M397.3 432 L403 519 M595.3 420 L599.7 520" stroke="#555" stroke-width="0.9" fill="none"/>
<g fill="#dcdcff" stroke="#1206d4" stroke-width="2.9"><circle cx="397.3" cy="429.3" r="2.7"/><circle cx="400.7" cy="427.3" r="2.7"/><circle cx="404.1" cy="425.3" r="2.7"/><circle cx="407.4" cy="423.4" r="2.7"/><circle cx="410.8" cy="421.4" r="2.7"/><circle cx="414.2" cy="419.4" r="2.7"/><circle cx="417.6" cy="417.4" r="2.7"/><circle cx="421.0" cy="415.3" r="2.7"/><circle cx="424.4" cy="413.1" r="2.7"/><circle cx="427.8" cy="410.9" r="2.7"/><circle cx="431.1" cy="408.6" r="2.7"/><circle cx="434.5" cy="406.4" r="2.7"/><circle cx="437.9" cy="404.1" r="2.7"/><circle cx="441.3" cy="401.9" r="2.7"/><circle cx="444.7" cy="399.6" r="2.7"/><circle cx="448.1" cy="396.8" r="2.7"/><circle cx="451.4" cy="393.8" r="2.7"/><circle cx="454.8" cy="390.8" r="2.7"/><circle cx="458.2" cy="387.8" r="2.7"/><circle cx="461.6" cy="384.5" r="2.7"/><circle cx="465.0" cy="381.2" r="2.7"/><circle cx="468.4" cy="378.0" r="2.7"/><circle cx="471.7" cy="374.7" r="2.7"/><circle cx="475.1" cy="372.0" r="2.7"/><circle cx="478.5" cy="369.2" r="2.7"/><circle cx="481.9" cy="366.5" r="2.7"/><circle cx="485.3" cy="363.8" r="2.7"/><circle cx="488.6" cy="361.9" r="2.7"/><circle cx="492.0" cy="359.9" r="2.7"/><circle cx="495.4" cy="358.0" r="2.7"/><circle cx="498.8" cy="356.0" r="2.7"/><circle cx="508.2" cy="356.0" r="2.7"/><circle cx="511.5" cy="357.3" r="2.7"/><circle cx="514.9" cy="358.7" r="2.7"/><circle cx="518.2" cy="360.3" r="2.7"/><circle cx="521.6" cy="363.0" r="2.7"/><circle cx="524.9" cy="365.6" r="2.7"/><circle cx="528.2" cy="368.3" r="2.7"/><circle cx="531.6" cy="370.9" r="2.7"/><circle cx="534.9" cy="373.6" r="2.7"/><circle cx="538.2" cy="376.2" r="2.7"/><circle cx="541.6" cy="378.7" r="2.7"/><circle cx="544.9" cy="381.2" r="2.7"/><circle cx="548.3" cy="383.7" r="2.7"/><circle cx="551.6" cy="386.2" r="2.7"/><circle cx="554.9" cy="388.7" r="2.7"/><circle cx="558.3" cy="391.0" r="2.7"/><circle cx="561.6" cy="393.4" r="2.7"/><circle cx="565.0" cy="395.7" r="2.7"/><circle cx="568.3" cy="398.0" r="2.7"/><circle cx="571.6" cy="400.3" r="2.7"/><circle cx="575.0" cy="402.6" r="2.7"/><circle cx="578.3" cy="404.8" r="2.7"/><circle cx="581.6" cy="407.0" r="2.7"/><circle cx="585.0" cy="409.2" r="2.7"/><circle cx="588.3" cy="411.4" r="2.7"/><circle cx="591.7" cy="413.6" r="2.7"/><circle cx="595.0" cy="415.8" r="2.7"/><circle cx="403.0" cy="523.6" r="2.7"/><circle cx="406.3" cy="523.4" r="2.7"/><circle cx="409.6" cy="523.2" r="2.7"/><circle cx="412.9" cy="523.1" r="2.7"/><circle cx="416.2" cy="522.9" r="2.7"/><circle cx="419.6" cy="522.7" r="2.7"/><circle cx="422.9" cy="522.5" r="2.7"/><circle cx="426.2" cy="522.3" r="2.7"/><circle cx="429.5" cy="522.1" r="2.7"/><circle cx="432.8" cy="522.0" r="2.7"/><circle cx="436.1" cy="521.8" r="2.7"/><circle cx="439.4" cy="521.6" r="2.7"/><circle cx="442.7" cy="521.4" r="2.7"/><circle cx="446.0" cy="521.2" r="2.7"/><circle cx="449.3" cy="521.0" r="2.7"/><circle cx="452.7" cy="520.8" r="2.7"/><circle cx="456.0" cy="520.6" r="2.7"/><circle cx="459.3" cy="520.3" r="2.7"/><circle cx="462.6" cy="520.1" r="2.7"/><circle cx="465.9" cy="519.9" r="2.7"/><circle cx="469.2" cy="519.6" r="2.7"/><circle cx="472.5" cy="519.4" r="2.7"/><circle cx="475.8" cy="519.2" r="2.7"/><circle cx="479.1" cy="518.9" r="2.7"/><circle cx="482.4" cy="518.7" r="2.7"/><circle cx="485.8" cy="518.4" r="2.7"/><circle cx="489.1" cy="518.2" r="2.7"/><circle cx="492.4" cy="518.0" r="2.7"/><circle cx="495.7" cy="517.7" r="2.7"/><circle cx="499.0" cy="517.5" r="2.7"/><circle cx="508.2" cy="519.0" r="2.7"/><circle cx="511.5" cy="519.5" r="2.7"/><circle cx="514.9" cy="520.0" r="2.7"/><circle cx="518.2" cy="520.5" r="2.7"/><circle cx="521.5" cy="521.0" r="2.7"/><circle cx="524.9" cy="521.5" r="2.7"/><circle cx="528.2" cy="522.0" r="2.7"/><circle cx="531.5" cy="522.5" r="2.7"/><circle cx="534.9" cy="523.0" r="2.7"/><circle cx="538.2" cy="523.5" r="2.7"/><circle cx="541.6" cy="524.0" r="2.7"/><circle cx="544.9" cy="524.5" r="2.7"/><circle cx="548.2" cy="524.7" r="2.7"/><circle cx="551.6" cy="525.0" r="2.7"/><circle cx="554.9" cy="525.2" r="2.7"/><circle cx="558.2" cy="525.4" r="2.7"/><circle cx="561.6" cy="525.7" r="2.7"/><circle cx="564.9" cy="525.9" r="2.7"/><circle cx="568.2" cy="526.2" r="2.7"/><circle cx="571.6" cy="526.4" r="2.7"/><circle cx="574.9" cy="526.6" r="2.7"/><circle cx="578.2" cy="526.9" r="2.7"/><circle cx="581.6" cy="527.1" r="2.7"/><circle cx="584.9" cy="527.2" r="2.7"/><circle cx="588.3" cy="527.3" r="2.7"/><circle cx="591.6" cy="527.4" r="2.7"/><circle cx="594.9" cy="527.5" r="2.7"/><circle cx="598.3" cy="527.6" r="2.7"/><circle cx="601.6" cy="527.7" r="2.7"/><circle cx="604.9" cy="527.8" r="2.7"/><circle cx="608.3" cy="527.9" r="2.7"/><circle cx="611.6" cy="528.0" r="2.7"/></g>
<text transform="translate(376 342.4) scale(1.05 1)" text-anchor="end" font-size="13.4" font-family="'Liberation Sans',sans-serif" font-weight="bold" fill="#161616">3.5</text>
<text transform="translate(376 389.2) scale(1.05 1)" text-anchor="end" font-size="13.4" font-family="'Liberation Sans',sans-serif" font-weight="bold" fill="#161616">3.0</text>
<text transform="translate(376 435.8) scale(1.05 1)" text-anchor="end" font-size="13.4" font-family="'Liberation Sans',sans-serif" font-weight="bold" fill="#161616">2.5</text>
<text transform="translate(376 480.4) scale(1.05 1)" text-anchor="end" font-size="13.4" font-family="'Liberation Sans',sans-serif" font-weight="bold" fill="#161616">2.0</text>
<text transform="translate(376 526.5) scale(1.05 1)" text-anchor="end" font-size="13.4" font-family="'Liberation Sans',sans-serif" font-weight="bold" fill="#161616">1.5</text>
<text transform="translate(403.3 557.5) scale(1.05 1)" text-anchor="middle" font-size="13.4" font-family="'Liberation Sans',sans-serif" font-weight="bold" fill="#161616">-0.4</text>
<text transform="translate(453.7 557.5) scale(1.05 1)" text-anchor="middle" font-size="13.4" font-family="'Liberation Sans',sans-serif" font-weight="bold" fill="#161616">-0.2</text>
<text transform="translate(504.1 557.5) scale(1.05 1)" text-anchor="middle" font-size="13.4" font-family="'Liberation Sans',sans-serif" font-weight="bold" fill="#161616">0.0</text>
<text transform="translate(554.6 557.5) scale(1.05 1)" text-anchor="middle" font-size="13.4" font-family="'Liberation Sans',sans-serif" font-weight="bold" fill="#161616">0.2</text>
<text transform="translate(605.0 557.5) scale(1.05 1)" text-anchor="middle" font-size="13.4" font-family="'Liberation Sans',sans-serif" font-weight="bold" fill="#161616">0.4</text>
<text x="489.6" y="580" font-size="18.6" font-family="'Liberation Sans',sans-serif" font-weight="bold" fill="#161616" textLength="36.6" lengthAdjust="spacing">U(V)</text>
<text transform="translate(344.8 460.2) rotate(-90)" font-size="18.4" font-family="'Liberation Sans',sans-serif" font-weight="bold" fill="#161616" textLength="52.6" lengthAdjust="spacing">R(kΩ)</text>
</g>
</g>
<!-- chart_f -->
<g id="p_chart_f">
<defs><filter id="fb" filterUnits="userSpaceOnUse" x="655" y="320" width="383" height="300"><feGaussianBlur stdDeviation="0.45"/></filter></defs>
<g filter="url(#fb)">
<rect x="703.8" y="339.2" width="288.0" height="201.2" fill="#fff" stroke="#444" stroke-width="1.3"/>
<path d="M755.6 540.4v-4M860.3 540.4v-4M965.0 540.4v-4M807.9 540.4v-2.5M912.6 540.4v-2.5M703.8 500.4h4M703.8 419.5h4M703.8 460.0h2.5M703.8 379.1h2.5" stroke="#444" stroke-width="1.2" fill="none"/>
<path d="M750.3 371.3V500.5" stroke="#222" stroke-width="0.9" stroke-opacity="0.65"/>
<path d="M748.0 500.5V525.2" stroke="#222" stroke-width="0.9" stroke-opacity="0.65"/>
<path d="M767.4 371.3V525.2" stroke="#e040e0" stroke-width="0.9" stroke-opacity="0.65"/>
<path d="M769.5 371.3V525.2" stroke="#e040e0" stroke-width="0.9" stroke-opacity="0.65"/>
<path d="M771.5 441.3V525.2" stroke="#2030d0" stroke-width="0.9" stroke-opacity="0.65"/>
<path d="M773.0 371.3V525.2" stroke="#209090" stroke-width="0.9" stroke-opacity="0.65"/>
<path d="M774.5 371.3V525.2" stroke="#333" stroke-width="0.9" stroke-opacity="0.65"/>
<path d="M776.0 371.3V525.2" stroke="#10107a" stroke-width="0.9" stroke-opacity="0.65"/>
<path d="M778.5 500.5V525.2" stroke="#e02020" stroke-width="0.9" stroke-opacity="0.65"/>
<path d="M780.0 371.3V525.2" stroke="#e8208c" stroke-width="0.9" stroke-opacity="0.65"/>
<path d="M782.6 371.3V525.2" stroke="#e8208c" stroke-width="0.9" stroke-opacity="0.65"/>
<path d="M756.5 500.5V525.2" stroke="#e02020" stroke-width="0.9" stroke-opacity="0.65"/>
<path d="M764.0 500.5V525.2" stroke="#e02020" stroke-width="0.9" stroke-opacity="0.65"/>
<path d="M772.3 371.3V525.2" stroke="#777" stroke-width="0.9" stroke-opacity="0.65"/>
<path d="M922.4 439.2V525.2" stroke="#e8208c" stroke-width="0.9" stroke-opacity="0.65"/>
<path d="M926.0 439.2V525.2" stroke="#e8208c" stroke-width="0.9" stroke-opacity="0.65"/>
<path d="M931.2 371.3V525.2" stroke="#401020" stroke-width="0.9" stroke-opacity="0.65"/>
<path d="M932.6 401.3V500.5" stroke="#10107a" stroke-width="0.9" stroke-opacity="0.65"/>
<path d="M935.5 371.3V525.2" stroke="#e8208c" stroke-width="0.9" stroke-opacity="0.65"/>
<path d="M938.3 371.3V439.2" stroke="#e8208c" stroke-width="0.9" stroke-opacity="0.65"/>
<path d="M936.5 454.0V525.2" stroke="#209090" stroke-width="0.9" stroke-opacity="0.65"/>
<path d="M940.0 454.0V525.2" stroke="#808020" stroke-width="0.9" stroke-opacity="0.65"/>
<path d="M942.0 371.3V525.2" stroke="#2040e0" stroke-width="0.9" stroke-opacity="0.65"/>
<path d="M943.8 371.3V525.2" stroke="#a0b0e0" stroke-width="0.9" stroke-opacity="0.65"/>
<path d="M954.3 371.3V500.5" stroke="#e02020" stroke-width="0.9" stroke-opacity="0.65"/>
<path d="M953.0 439.2V500.5" stroke="#e02020" stroke-width="0.9" stroke-opacity="0.65"/>
<path d="M947.0 500.5V525.2" stroke="#e02020" stroke-width="0.9" stroke-opacity="0.65"/>
<path d="M962.4 371.3V525.2" stroke="#222" stroke-width="0.9" stroke-opacity="0.65"/>
<path d="M751.0 371.3H764.0" stroke="#111" stroke-width="5.4" stroke-linecap="round"/>
<path d="M955.0 371.9H967.0" stroke="#111" stroke-width="5.4" stroke-linecap="round"/>
<path d="M948.0 371.7H958.0" stroke="#e02020" stroke-width="5.6" stroke-linecap="round"/>
<path d="M766.0 371.3H772.0" stroke="#d040d8" stroke-width="6.0" stroke-linecap="round"/>
<path d="M773.0 371.3H778.0" stroke="#30206a" stroke-width="6.0" stroke-linecap="round"/>
<path d="M779.0 371.3H950.0" stroke="#e6127e" stroke-width="6.6" stroke-linecap="round"/>
<path d="M945.0 525.2H960.0" stroke="#111" stroke-width="5.0" stroke-linecap="round"/>
<path d="M745.0 525.2H752.0" stroke="#e02020" stroke-width="5.4" stroke-linecap="round"/>
<path d="M942.0 525.2H947.0" stroke="#e02020" stroke-width="5.4" stroke-linecap="round"/>
<path d="M754.0 525.2H925.0" stroke="#e6127e" stroke-width="6.6" stroke-linecap="round"/>
<path d="M927.0 525.2H934.0" stroke="#20207a" stroke-width="5.6" stroke-linecap="round"/>
<path d="M935.0 525.2H939.0" stroke="#208888" stroke-width="5.6" stroke-linecap="round"/>
<path d="M940.0 525.2H943.0" stroke="#2040d0" stroke-width="5.6" stroke-linecap="round"/>
<rect x="744.8" y="498.0" width="5.4" height="5" fill="#111"/>
<path d="M757.0 500.5H764.0" stroke="#e02020" stroke-width="4.6" stroke-linecap="round"/>
<path d="M765.0 500.5H772.0" stroke="#28287a" stroke-width="4.6" stroke-linecap="round"/>
<path d="M773.0 500.5H780.0" stroke="#e6127e" stroke-width="5.0" stroke-linecap="round"/>
<path d="M929.3 495.9 l3.4 4 l-3.4 4 l-3.4 -4Z" fill="#20206a"/>
<path d="M925.5 501.0H927.5" stroke="#501020" stroke-width="4.0" stroke-linecap="round"/>
<path d="M946.5 500.2H951.5" stroke="#e02020" stroke-width="4.4" stroke-linecap="round"/>
<path d="M772.4 439.2H774.0" stroke="#20206a" stroke-width="5.0" stroke-linecap="round"/>
<path d="M776.0 439.2H782.5" stroke="#e6127e" stroke-width="5.0" stroke-linecap="round"/>
<path d="M924.0 439.2H937.0" stroke="#e6127e" stroke-width="5.4" stroke-linecap="round"/>
<circle cx="952.8" cy="439.2" r="2.5" fill="#e02020"/>
<path d="M932.0 454.3H940.0" stroke="#7a8a20" stroke-width="4.6" stroke-linecap="round"/>
<path d="M826 390.8H852.4" stroke="#111" stroke-width="0.9"/>
<rect x="836.7" y="388.3" width="5" height="5" fill="#111"/>
<text transform="translate(856.6 394.6) scale(1.1 1)" font-size="10.5" font-family="'Liberation Sans',sans-serif" font-weight="bold" fill="#161616">2 ns</text>
<path d="M826 405.2H852.4" stroke="#e02020" stroke-width="0.9"/>
<circle cx="839.2" cy="405.2" r="2.8" fill="#e02020"/>
<text transform="translate(856.6 409.0) scale(1.1 1)" font-size="10.5" font-family="'Liberation Sans',sans-serif" font-weight="bold" fill="#161616">3 ns</text>
<path d="M826 419.6H852.4" stroke="#2030e0" stroke-width="0.9"/>
<path d="M839.2 416.2 l3.2 5.6 h-6.4Z" fill="#2030e0"/>
<text transform="translate(856.6 423.4) scale(1.1 1)" font-size="10.5" font-family="'Liberation Sans',sans-serif" font-weight="bold" fill="#161616">4 ns</text>
<path d="M826 433.9H852.4" stroke="#109090" stroke-width="0.9"/>
<path d="M839.2 437.3 l3.2 -5.6 h-6.4Z" fill="#109090"/>
<text transform="translate(856.6 437.7) scale(1.1 1)" font-size="10.5" font-family="'Liberation Sans',sans-serif" font-weight="bold" fill="#161616">5 ns</text>
<path d="M826 448.3H852.4" stroke="#e040e0" stroke-width="0.9"/>
<path d="M835.8 448.3 l5.6 -3.2 v6.4Z" fill="#e040e0"/>
<text transform="translate(856.6 452.1) scale(1.1 1)" font-size="10.5" font-family="'Liberation Sans',sans-serif" font-weight="bold" fill="#161616">6 ns</text>
<path d="M826 462.7H852.4" stroke="#808020" stroke-width="0.9"/>
<path d="M842.6 462.7 l-5.6 -3.2 v6.4Z" fill="#808020"/>
<text transform="translate(856.6 466.5) scale(1.1 1)" font-size="10.5" font-family="'Liberation Sans',sans-serif" font-weight="bold" fill="#161616">7 ns</text>
<path d="M826 477.1H852.4" stroke="#10107a" stroke-width="0.9"/>
<path d="M839.2 473.5 l3 3.6 l-3 3.6 l-3 -3.6Z" fill="#10107a"/>
<text transform="translate(856.6 480.9) scale(1.1 1)" font-size="10.5" font-family="'Liberation Sans',sans-serif" font-weight="bold" fill="#161616">8 ns</text>
<path d="M826 491.5H852.4" stroke="#701028" stroke-width="0.9"/>
<circle cx="839.2" cy="491.5" r="2.8" fill="#701028"/>
<text transform="translate(856.6 495.3) scale(1.1 1)" font-size="10.5" font-family="'Liberation Sans',sans-serif" font-weight="bold" fill="#161616">9 ns</text>
<path d="M826 505.8H852.4" stroke="#e6127e" stroke-width="0.9"/>
<circle cx="839.2" cy="505.8" r="2.8" fill="#e6127e"/>
<text transform="translate(856.6 509.6) scale(1.1 1)" font-size="10.5" font-family="'Liberation Sans',sans-serif" font-weight="bold" fill="#161616">10 ns</text>
<text transform="translate(699.6 343.8) scale(1.1 1)" text-anchor="end" font-size="14.3" font-family="'Liberation Sans',sans-serif" font-weight="bold" fill="#161616">4</text>
<text transform="translate(699.6 424.7) scale(1.1 1)" text-anchor="end" font-size="14.3" font-family="'Liberation Sans',sans-serif" font-weight="bold" fill="#161616">3</text>
<text transform="translate(699.6 505.8) scale(1.1 1)" text-anchor="end" font-size="14.3" font-family="'Liberation Sans',sans-serif" font-weight="bold" fill="#161616">2</text>
<text transform="translate(755.3 557.9) scale(1.1 1)" text-anchor="middle" font-size="14.3" font-family="'Liberation Sans',sans-serif" font-weight="bold" fill="#161616">-1</text>
<text transform="translate(860.3 557.9) scale(1.1 1)" text-anchor="middle" font-size="14.3" font-family="'Liberation Sans',sans-serif" font-weight="bold" fill="#161616">0</text>
<text transform="translate(965.0 557.9) scale(1.1 1)" text-anchor="middle" font-size="14.3" font-family="'Liberation Sans',sans-serif" font-weight="bold" fill="#161616">1</text>
<text transform="translate(866.3 578.6) scale(1.07 1)" text-anchor="middle" font-size="15.9" font-family="'Liberation Sans',sans-serif" font-weight="bold" fill="#161616">U pulse (V)</text>
 <text transform="translate(674.8 429.8) scale(1.12 1) rotate(-90)" text-anchor="middle" font-size="20.6" font-family="'Liberation Serif',serif" font-weight="bold" fill="#222">R (kΩ)</text>
</g>
</g>
</svg>
<div class="lab" style="left:134.4px;top:294.8px">(a)</div>
<div class="lab" style="left:449.3px;top:294.8px">(b)</div>
<div class="lab" style="left:816.2px;top:294.8px">(c)</div>
<div class="lab" style="left:149.2px;top:580.1px">(d)</div>
<div class="lab" style="left:474.8px;top:587.9px">(e)</div>
<div class="lab" style="left:833.9px;top:590.6px">(f)</div>
<p class="cap" style="top:621.9px">
<span style="left:42.8px;letter-spacing:1.33px;">(a)</span>
<span style="left:78.0px;">8</span>
<span class="k" style="left:96.0px;">吋</span>
<span style="left:126.2px;letter-spacing:0.20px;">STT-MRAM</span>
<span class="k" style="left:260.5px;letter-spacing:0.10px;">存储器件晶圆</span>
<span style="left:416.8px;">;</span>
<span style="left:423.8px;letter-spacing:1.65px;">(b)</span>
<span style="left:460.6px;letter-spacing:0.12px;">STT-MRAM</span>
<span class="k" style="left:593.6px;letter-spacing:0.38px;">隧道结阵列</span>
<span style="left:724.4px;">;</span>
<span style="left:731.9px;letter-spacing:2.08px;">(c)</span>
<span class="k" style="left:767.0px;letter-spacing:0.30px;">亚百纳米</span>
<span style="left:871.7px;letter-spacing:0.38px;">STT-MRAM</span>
</p>
<p class="cap" style="top:658.1px">
<span class="k" style="left:31.8px;letter-spacing:0.55px;">隧道结器件</span>
<span style="left:161.5px;letter-spacing:-0.30px;">TEM</span>
<span class="k" style="left:219.1px;letter-spacing:-0.15px;">截面图</span>
<span class="p" style="left:298.3px;">；</span>
<span class="p" style="left:305.0px;">（</span>
<span style="left:328.9px;">d</span>
<span class="p" style="left:341.6px;">）</span>
<span style="left:365.4px;letter-spacing:0.31px;">STT-MRAM</span>
<span class="k" style="left:499.0px;letter-spacing:0.49px;">隧道结器件测试结构</span>
<span class="p" style="left:724.9px;">；</span>
<span class="p" style="left:734.2px;">（</span>
<span style="left:758.0px;">e</span>
<span class="p" style="left:772.0px;">）</span>
<span class="k" style="left:792.0px;letter-spacing:0.85px;">隧道结</span>
<span style="left:872.2px;letter-spacing:-0.20px;">STT</span>
<span class="k" style="left:922.3px;letter-spacing:0.20px;">翻转特</span>
</p>
<p class="cap" style="top:694.3px">
<span class="k" style="left:283.8px;letter-spacing:-0.30px;">征曲线</span>
<span class="p" style="left:363.4px;">；</span>
<span class="p" style="left:369.0px;">（</span>
<span style="left:392.7px;">f</span>
<span class="p" style="left:401.8px;">）</span>
<span class="k" style="left:425.6px;letter-spacing:0.45px;">隧道结瞬态脉冲翻转特征曲线</span>
</p>
</body></html>
